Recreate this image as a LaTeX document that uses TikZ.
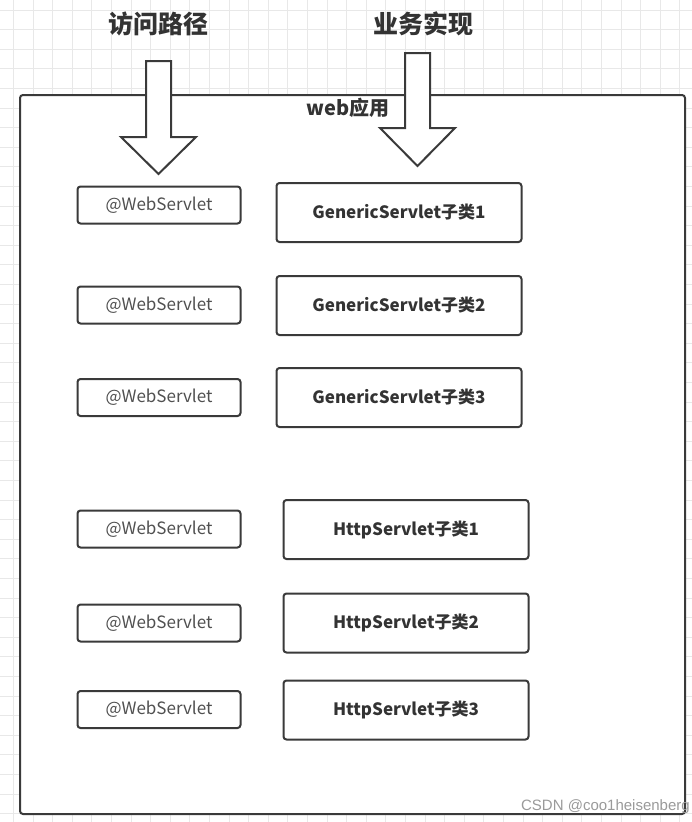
\documentclass[tikz,border=0pt]{standalone}
\usepackage{fontspec}
\setmainfont{Noto Sans CJK SC}
\newfontfamily\wmfont{Liberation Sans}
\definecolor{ln}{HTML}{3A3A3A}
\definecolor{gridc}{HTML}{E8E8E8}
\definecolor{dark}{HTML}{333333}
\definecolor{lefttext}{HTML}{505050}
\definecolor{wm}{HTML}{9A9A9A}
\begin{document}
\begin{tikzpicture}[x=1pt,y=-1pt,
  gridline/.style={draw=gridc, line width=0.8pt},
  frame/.style={draw=ln, line width=2pt, rounded corners=3pt},
  annot/.style={frame, fill=white, minimum width=163pt, minimum height=37pt, text=lefttext, font=\fontsize{17}{20}\selectfont, inner sep=0pt},
  impl/.style={frame, fill=white, minimum width=245pt, minimum height=59pt, text=dark, font=\bfseries\fontsize{17}{20}\selectfont, inner sep=0pt},
  bigarrow/.style={draw=ln, line width=2pt, fill=white, line join=miter},
  title/.style={font=\bfseries\fontsize{25}{30}\selectfont, text=dark, inner sep=0pt}]
\useasboundingbox (0,0) rectangle (692,822);
\fill[white] (0,0) rectangle (692,822);
% background grid
\foreach \i in {0,...,34} {\draw[gridline] ({13.4+19.6*\i},0) -- ({13.4+19.6*\i},822);}
\foreach \j in {0,...,41} {\draw[gridline] (0,{10+19.6*\j}) -- (692,{10+19.6*\j});}
% web application frame
\node[frame, fill=white, minimum width=665pt, minimum height=719pt, inner sep=0pt] (app) at (352.5,454.5) {};
\node[text=dark, font=\bfseries\fontsize{20}{24}\selectfont, inner sep=0pt] (applabel) at (348,108) {web应用};
% titles
\node[title] (path) at (158.5,23.5) {访问路径};
\node[title] (biz) at (423,24) {业务实现};
% block arrows
\draw[bigarrow] (146,61) -- (171,61) -- (171,137) -- (196,137) -- (158.5,174) -- (121,137) -- (146,137) -- cycle;
\draw[bigarrow] (405,53) -- (430,53) -- (430,128) -- (455,128) -- (417.5,166) -- (380,128) -- (405,128) -- cycle;
% left column
\node[annot] (w1) at (159,205) {@WebServlet};
\node[annot] (w2) at (159,305) {@WebServlet};
\node[annot] (w3) at (159,397.5) {@WebServlet};
\node[annot] (w4) at (159,529) {@WebServlet};
\node[annot] (w5) at (159,623) {@WebServlet};
\node[annot] (w6) at (159,709.5) {@WebServlet};
% right column
\node[impl] (g1) at (399,212.5) {GenericServlet子类1};
\node[impl] (g2) at (399,305.5) {GenericServlet子类2};
\node[impl] (g3) at (399,397.5) {GenericServlet子类3};
\node[impl] (h1) at (406,529.5) {HttpServlet子类1};
\node[impl] (h2) at (406,623) {HttpServlet子类2};
\node[impl] (h3) at (406,710) {HttpServlet子类3};
% watermark
\node[anchor=east, text=wm, font=\wmfont\fontsize{15}{18}\selectfont, inner sep=0pt] (csdn) at (690,807) {CSDN @coo1heisenberg};
\end{tikzpicture}
\end{document}
